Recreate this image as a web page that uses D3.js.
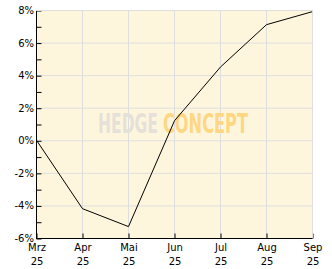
<!DOCTYPE html>
<html>
<head>
<meta charset="utf-8">
<script src="https://cdn.jsdelivr.net/npm/d3@7"></script>
<style>
  body { margin: 0; background: #fff; }
  svg text { font-family: "DejaVu Sans", sans-serif; font-size: 10px; fill: #000; }
</style>
</head>
<body>
<figure id="chart" style="margin:0"></figure>
<script>
// chart data
const months = ["Mrz", "Apr", "Mai", "Jun", "Jul", "Aug", "Sep"];
const years = ["25", "25", "25", "25", "25", "25", "25"];
const perf = [0.0, -4.2, -5.3, 1.2, 4.5, 7.1, 7.9];
const yTicks = [-6, -4, -2, 0, 2, 4, 6, 8];

class PerfChart {
  constructor() {
    this.width = 332;
    this.height = 269;
    this.margin = { top: 10, right: 20, bottom: 31, left: 36 };
    this.bgColor = "#fef6dc";
    this.gridColor = "#dedede";
  }

  init() {
    this.svg = d3.select("figure#chart").append("svg")
      .attr("width", this.width)
      .attr("height", this.height);
    const m = this.margin;
    this.x = d3.scalePoint()
      .domain(months)
      .range([m.left, this.width - m.right]);
    this.y = d3.scaleLinear()
      .domain([-6, 8])
      .range([this.height - m.bottom, m.top]);
  }

  // watermark word squeezed horizontally to a given width
  addMark(word, left, width, color) {
    const t = this.svg.append("text")
      .attr("x", 0).attr("y", 0)
      .style("font-family", "'DejaVu Sans Condensed', 'Liberation Sans Narrow', sans-serif")
      .style("font-size", "27px")
      .style("font-weight", "bold")
      .style("fill", color)
      .text(word);
    const w = t.node().getComputedTextLength();
    t.attr("transform", `translate(${left},133) scale(${width / w},1)`);
  }

  draw() {
    const svg = this.svg, x = this.x, y = this.y, m = this.margin;
    const x0 = m.left, x1 = this.width - m.right;
    const y0 = this.height - m.bottom, y1 = m.top;

    // background
    svg.append("rect")
      .attr("x", x0).attr("y", y1)
      .attr("width", x1 - x0).attr("height", y0 - y1)
      .attr("fill", this.bgColor);

    // grid
    svg.append("g")
      .selectAll("line.h")
      .data(yTicks)
      .enter().append("line")
      .attr("x1", x0).attr("x2", x1)
      .attr("y1", (d) => y(d) + 0.5).attr("y2", (d) => y(d) + 0.5)
      .attr("stroke", this.gridColor);
    svg.append("g")
      .selectAll("line.v")
      .data(months)
      .enter().append("line")
      .attr("x1", (d) => x(d) + 0.5).attr("x2", (d) => x(d) + 0.5)
      .attr("y1", y1).attr("y2", y0)
      .attr("stroke", this.gridColor);

    this.addMark("HEDGE", 98, 60, "#e5e1d9");
    this.addMark("CONCEPT", 163, 85, "#fdd784");

    // line
    const line = d3.line()
      .x((d, i) => x(months[i]) + 0.5)
      .y((d) => y(d));
    svg.append("path")
      .datum(perf)
      .attr("d", line)
      .attr("fill", "none")
      .attr("stroke", "#000")
      .attr("stroke-width", 1);

    // y axis with minor ticks pointing inward
    const yAxis = d3.axisRight(y)
      .tickValues(d3.range(-6, 9, 1))
      .tickSize(5)
      .tickFormat("");
    svg.append("g")
      .attr("transform", `translate(${x0 + 0.5},0)`)
      .call(yAxis)
      .call((g) => g.selectAll("line").attr("stroke", "#000").attr("transform", "translate(0,0.5)"))
      .call((g) => g.select(".domain").attr("stroke", "#000").attr("d", `M0,${y1}V${y0 + 0.5}`));

    svg.append("g")
      .selectAll("text")
      .data(yTicks)
      .enter().append("text")
      .attr("x", x0 - 2)
      .attr("y", (d) => y(d) + 4)
      .attr("text-anchor", "end")
      .text((d) => d + "%");

    // x axis with ticks pointing up
    const xAxis = d3.axisTop(x).tickSize(5).tickFormat("");
    svg.append("g")
      .attr("transform", `translate(0.5,${y0 + 0.5})`)
      .call(xAxis)
      .call((g) => g.selectAll("line").attr("stroke", "#000"))
      .call((g) => g.select(".domain").attr("stroke", "#000").attr("d", `M${x0 - 0.5},0H${x1}`));

    // right and top frame
    svg.append("path")
      .attr("d", `M${x0},${y1 + 0.5}H${x1 + 0.5}V${y0}`)
      .attr("fill", "none")
      .attr("stroke", this.gridColor);

    const lbl = svg.append("g")
      .selectAll("text")
      .data(months)
      .enter().append("text")
      .attr("text-anchor", "middle")
      .attr("x", (d) => x(d) + 1);
    lbl.append("tspan").attr("y", y0 + 13).text((d) => d);
    lbl.append("tspan").attr("x", (d) => x(d) + 1).attr("y", y0 + 27).text((d, i) => years[i]);
  }
}

const chart = new PerfChart();
chart.init();
chart.draw();
</script>
</body>
</html>
